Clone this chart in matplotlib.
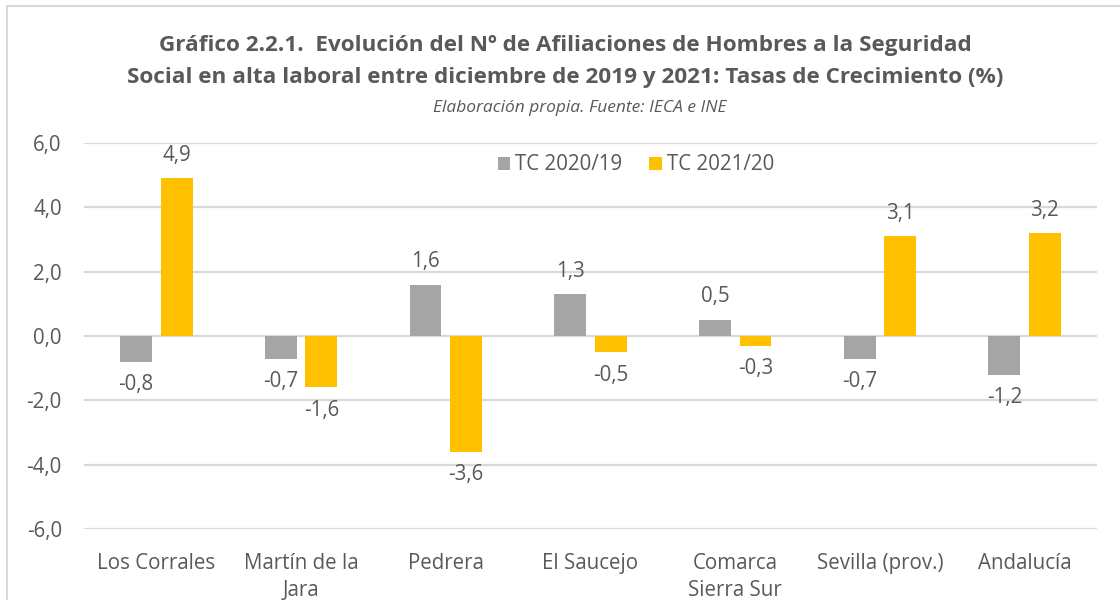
import matplotlib
matplotlib.use("Agg")
import matplotlib.pyplot as plt
import numpy as np
from matplotlib.patches import Rectangle

categories = ["Los Corrales", "Martín de la\nJara", "Pedrera", "El Saucejo",
              "Comarca\nSierra Sur", "Sevilla (prov.)", "Andalucía"]
tc_2020_19 = [-0.8, -0.7, 1.6, 1.3, 0.5, -0.7, -1.2]
tc_2021_20 = [4.9, -1.6, -3.6, -0.5, -0.3, 3.1, 3.2]
series_names = ["TC 2020/19", "TC 2021/20"]
yticks = [-6, -4, -2, 0, 2, 4, 6]

plt.rcParams['font.family'] = ['Open Sans', 'DejaVu Sans']
TXT = "#595959"
GRAY = "#A5A5A5"
GOLD = "#FFC000"
FS = 14.8

fig = plt.figure(figsize=(11.2, 6.0), dpi=100)
ax = fig.add_axes([84/1120, 1-529/600, (1097-84)/1120, (529-143)/600])

x = np.arange(len(categories))
w = 0.22
gap = 0.06
b1 = ax.bar(x - (w+gap)/2, tc_2020_19, w, color=GRAY, label=series_names[0], zorder=3)
b2 = ax.bar(x + (w+gap)/2, tc_2021_20, w, color=GOLD, label=series_names[1], zorder=3)

def fmt(v):
    return f"{v:.1f}".replace(".", ",")

for bars, vals in ((b1, tc_2020_19), (b2, tc_2021_20)):
    for r, v in zip(bars, vals):
        cx = r.get_x() + r.get_width()/2
        off = 23 if v >= 0 else -23
        ax.annotate(fmt(v), (cx, v), xytext=(0, off), textcoords="offset pixels",
                    ha="center", va="center", fontsize=FS, color=TXT)

ax.set_xlim(-0.5, len(categories) - 0.5)
ax.set_ylim(-6, 6)
ax.set_yticks(yticks)
ax.set_yticklabels([fmt(float(t)) for t in yticks], fontsize=FS, color=TXT)
ax.set_xticks(x)
ax.set_xticklabels(categories, fontsize=FS, color=TXT, linespacing=1.4)
ax.tick_params(axis="both", length=0)
ax.tick_params(axis="y", pad=16)
ax.tick_params(axis="x", pad=17)
ax.grid(axis="y", color="#D9D9D9", linewidth=1.6, zorder=0)
for s in ax.spines.values():
    s.set_visible(False)

leg = ax.legend(loc="center", bbox_to_anchor=(636/1120, 1-165/600), bbox_transform=fig.transFigure,
                ncol=2, frameon=False, fontsize=FS, handlelength=0.6, handleheight=0.6,
                handletextpad=0.25, columnspacing=1.3)
for t in leg.get_texts():
    t.set_color(TXT)

fig.text(565/1120, 1-45/600, "Gráfico 2.2.1.  Evolución del Nº de Afiliaciones de Hombres a la Seguridad",
         ha="center", va="center", fontsize=16.2, fontweight="bold", color=TXT)
fig.text(565/1120, 1-77/600, "Social en alta laboral entre diciembre de 2019 y 2021: Tasas de Crecimiento (%)",
         ha="center", va="center", fontsize=16.2, fontweight="bold", color=TXT)
fig.text(580/1120, 1-108/600, "Elaboración propia. Fuente: IECA e INE",
         ha="center", va="center", fontsize=12.5, fontstyle="italic", color=TXT)

fig.patches.append(Rectangle((7/1120, -0.1), 1.2, 1 + 0.1 - 6/600, transform=fig.transFigure,
                             fill=False, edgecolor="#D9D9D9", linewidth=1.5))

fig.savefig("out.png", dpi=100)
